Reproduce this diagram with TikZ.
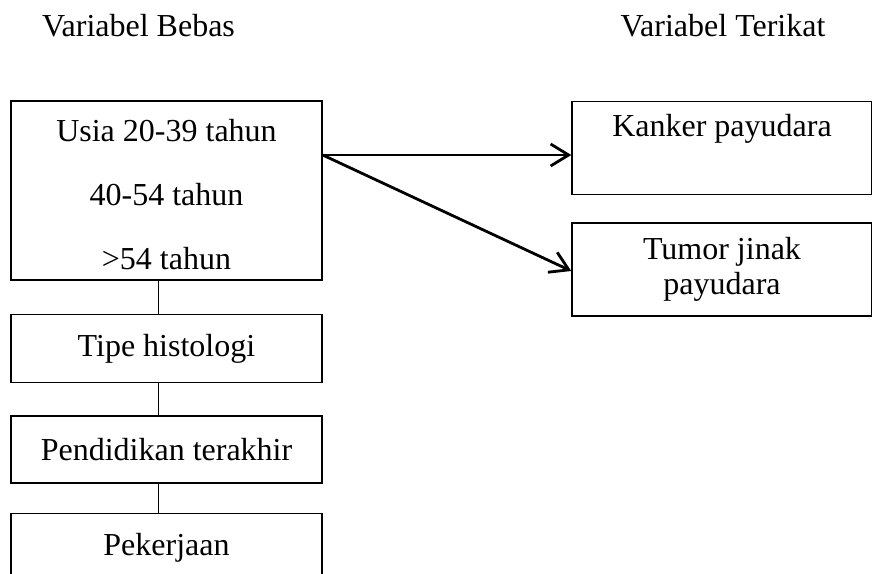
\documentclass[tikz,border=0pt]{standalone}
\usepackage{fontspec}
\setmainfont{Liberation Serif}
\usetikzlibrary{positioning,arrows.meta}

\begin{document}
\begin{tikzpicture}[
		x=0.5pt, y=-0.5pt,
		every node/.style={font=\fontsize{16}{17.5}\selectfont},
		box/.style={draw, rectangle, line width=0.7pt, align=center, inner sep=0pt, minimum width=155.5pt},
		rbox/.style={draw, rectangle, line width=0.7pt, align=center, inner sep=0pt, minimum width=150pt, minimum height=46.5pt},
		link/.style={line width=0.7pt},
		arrow/.style={line width=1.4pt, -{Straight Barb[length=9pt,width=11pt,line width=1.4pt]}},
		node distance=16pt
		]
		\useasboundingbox (0,0) rectangle (872,573);
		% judul
		\node (bebas) at (138.5,26) {Variabel Bebas};
		\node (terikat) at (723,26) {Variabel Terikat};
		% variabel bebas
		\node[box, minimum height=89.5pt, font=\fontsize{16}{32}\selectfont] (usia) at (166.5,190.5) {\rule{0pt}{15pt}Usia 20-39 tahun\\40-54 tahun\\>54 tahun};
		\node[box, minimum height=34pt, below=16.5pt of usia] (tipe) {Tipe histologi};
		\node[box, minimum height=33.5pt, below=16pt of tipe] (didik) {Pendidikan terakhir};
		\node[box, minimum height=44pt, text depth=13pt, below=14.5pt of didik] (kerja) {Pekerjaan};
		\draw[link] ([xshift=-4pt]usia.south) -- ([xshift=-4pt]tipe.north);
		\draw[link] ([xshift=-4pt]tipe.south) -- ([xshift=-4pt]didik.north);
		\draw[link] ([xshift=-4pt]didik.south) -- ([xshift=-4pt]kerja.north);
		% variabel terikat
		\node[rbox] (kanker) at (722,148) {Kanker payudara\\\strut};
		\node[rbox] (tumor) at (722,269.5) {Tumor jinak\\payudara};
		\coordinate (asal) at ([yshift=17.75pt]usia.east);
		\draw[arrow] (asal) -- (asal -| kanker.west);
		\draw[arrow] (asal) -- ([yshift=-0.75pt]tumor.west);
	\end{tikzpicture}
\end{document}
